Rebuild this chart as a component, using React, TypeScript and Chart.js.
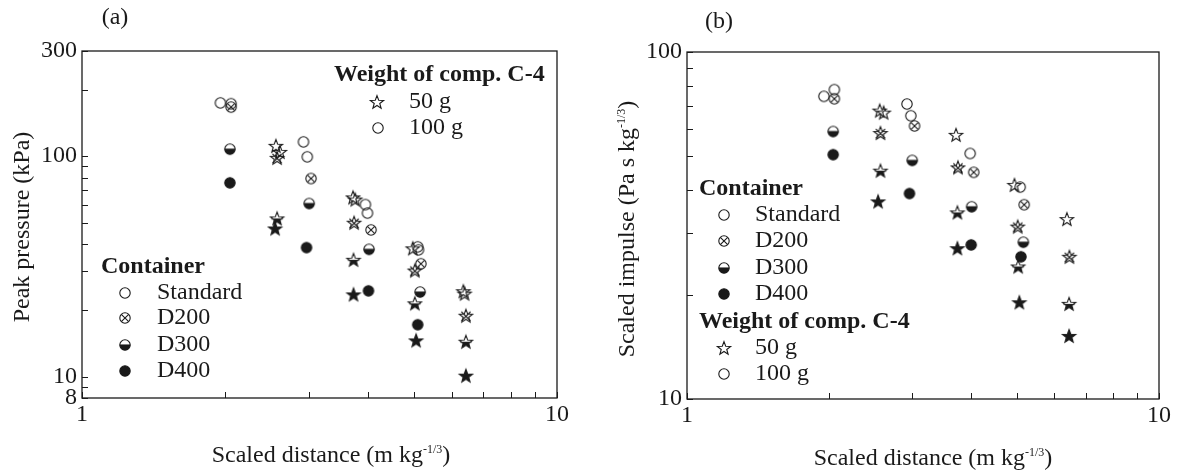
import { useEffect, useRef } from 'react';
import { Chart, registerables } from 'chart.js';

Chart.register(...registerables);

const SERIF = '"Liberation Serif", "Times New Roman", Times, serif';
const INK = '#1a1a1a';

type Pt = [number, number];

// ---- categories / tick labels ----
const CONTAINERS = ['Standard', 'D200', 'D300', 'D400'];
const WEIGHTS = ['50 g', '100 g'];
const X_TICKS = [1, 2, 3, 4, 5, 6, 7, 8, 9, 10];
const X_LABELS = [1, 10];
const A_Y_TICKS = [8, 9, 10, 20, 30, 40, 50, 60, 70, 80, 90, 100, 200, 300];
const A_Y_LABELS = [8, 10, 100, 300];
const B_Y_TICKS = [10, 20, 30, 40, 50, 60, 70, 80, 90, 100];
const B_Y_LABELS = [10, 100];

// ---- panel (a): peak pressure (kPa) ----
const A_STD_100: Pt[] = [[1.956, 174.5], [2.06, 173], [2.926, 116.1], [2.98, 99.3], [3.95, 60.3], [3.99, 55.2], [5.09, 38.8], [5.11, 37.6]];
const A_D200_100: Pt[] = [[2.06, 167], [3.035, 79.2], [4.06, 46.3], [5.17, 32.5]];
const A_D300_100: Pt[] = [[2.048, 107.6], [3.008, 61.0], [4.02, 37.8], [5.15, 24.2]];
const A_D400_100: Pt[] = [[2.048, 75.7], [2.97, 38.5], [4.01, 24.5], [5.09, 17.2]];
const A_STD_50: Pt[] = [[2.56, 111.4], [2.61, 104.6], [3.72, 65.0], [3.76, 63.6], [4.97, 38.2], [6.35, 24.4], [6.39, 23.8]];
const A_D200_50: Pt[] = [[2.575, 98.3], [3.74, 49.9], [5.02, 30.3], [6.43, 18.9]];
const A_D300_50: Pt[] = [[2.575, 52.2], [3.73, 33.9], [5.02, 21.5], [6.43, 14.4]];
const A_D400_50: Pt[] = [[2.55, 47.0], [3.73, 23.6], [5.05, 14.6], [6.43, 10.1]];

// ---- panel (b): scaled impulse (Pa s kg^-1/3) ----
const B_STD_100: Pt[] = [[1.95, 74.5], [2.052, 77.9], [2.924, 70.8], [2.98, 65.5], [3.98, 51.0], [5.08, 40.8]];
const B_D200_100: Pt[] = [[2.052, 73.3], [3.034, 61.2], [4.05, 45.0], [5.18, 36.3]];
const B_D300_100: Pt[] = [[2.04, 59.0], [3.0, 48.7], [4.01, 35.8], [5.16, 28.3]];
const B_D400_100: Pt[] = [[2.04, 50.6], [2.96, 39.1], [4.0, 27.8], [5.1, 25.7]];
const B_STD_50: Pt[] = [[2.56, 67.8], [2.61, 66.9], [3.715, 57.7], [4.94, 41.4], [6.38, 33.0]];
const B_D200_50: Pt[] = [[2.57, 58.4], [3.75, 46.5], [5.02, 31.4], [6.46, 25.7]];
const B_D300_50: Pt[] = [[2.57, 45.5], [3.74, 34.5], [5.03, 24.1], [6.45, 18.8]];
const B_D400_50: Pt[] = [[2.54, 37.1], [3.74, 27.2], [5.06, 19.0], [6.45, 15.2]];

type Fill = 'open' | 'cross' | 'half' | 'full';
const FILLS: Fill[] = ['open', 'cross', 'half', 'full'];

function starPath(ctx: CanvasRenderingContext2D, cx: number, cy: number, R: number, r: number) {
  ctx.beginPath();
  for (let i = 0; i < 10; i++) {
    const ang = -Math.PI / 2 + (i * Math.PI) / 5;
    const rad = i % 2 === 0 ? R : r;
    const x = cx + rad * Math.cos(ang);
    const y = cy + rad * Math.sin(ang);
    if (i === 0) ctx.moveTo(x, y);
    else ctx.lineTo(x, y);
  }
  ctx.closePath();
}

function makeMarker(shape: 'circle' | 'star', fill: Fill): HTMLCanvasElement {
  const size = 18;
  const c = document.createElement('canvas');
  c.width = size;
  c.height = size;
  const ctx = c.getContext('2d')!;
  const cx = size / 2;
  const cy = shape === 'star' ? size / 2 + 0.6 : size / 2;
  ctx.strokeStyle = INK;
  ctx.fillStyle = INK;
  ctx.lineWidth = 1.1;
  const path = () => {
    if (shape === 'circle') {
      ctx.beginPath();
      ctx.arc(cx, cy, 5.2, 0, Math.PI * 2);
      ctx.closePath();
    } else {
      starPath(ctx, cx, cy, 7, 2.9);
    }
  };
  if (fill === 'full') {
    path();
    ctx.fill();
    ctx.stroke();
    return c;
  }
  if (fill === 'half') {
    ctx.save();
    path();
    ctx.clip();
    ctx.fillRect(0, cy, size, size);
    ctx.restore();
    ctx.beginPath();
    const hw = shape === 'circle' ? 5.2 : 5.5;
    ctx.moveTo(cx - hw, cy);
    ctx.lineTo(cx + hw, cy);
    ctx.stroke();
  }
  if (fill === 'cross') {
    const d = shape === 'circle' ? 3.7 : 4.6;
    if (shape === 'circle') {
      ctx.save();
      path();
      ctx.clip();
    }
    ctx.beginPath();
    ctx.moveTo(cx - d, cy - d);
    ctx.lineTo(cx + d, cy + d);
    ctx.moveTo(cx - d, cy + d);
    ctx.lineTo(cx + d, cy - d);
    ctx.stroke();
    if (shape === 'circle') ctx.restore();
  }
  path();
  ctx.stroke();
  return c;
}

interface Panel {
  tag: string;
  tagX: number;
  tagY: number;
  yTitle: string;
  ySup: boolean;
  yTitleX: number;
  yTitleY: number;
  xTitleX: number;
  xTitleY: number;
  yMin: number;
  yMax: number;
  yTicks: number[];
  yLabels: number[];
  s100: Pt[][];
  s50: Pt[][];
  left: number;
  width: number;
  area: { left: number; right: number; top: number; bottom: number };
  legend: 'a' | 'b';
}

const PANELS: Panel[] = [
  {
    tag: '(a)', tagX: 115, tagY: 18,
    yTitle: 'Peak pressure (kPa)', ySup: false, yTitleX: 21, yTitleY: 227,
    xTitleX: 331, xTitleY: 454,
    yMin: 8, yMax: 300, yTicks: A_Y_TICKS, yLabels: A_Y_LABELS,
    s100: [A_STD_100, A_D200_100, A_D300_100, A_D400_100],
    s50: [A_STD_50, A_D200_50, A_D300_50, A_D400_50],
    left: 0, width: 590,
    area: { left: 82, right: 557, top: 51, bottom: 398 },
    legend: 'a',
  },
  {
    tag: '(b)', tagX: 129, tagY: 22,
    yTitle: 'Scaled impulse (Pa s kg', ySup: true, yTitleX: 36, yTitleY: 229,
    xTitleX: 343, xTitleY: 457,
    yMin: 10, yMax: 100, yTicks: B_Y_TICKS, yLabels: B_Y_LABELS,
    s100: [B_STD_100, B_D200_100, B_D300_100, B_D400_100],
    s50: [B_STD_50, B_D200_50, B_D300_50, B_D400_50],
    left: 590, width: 593,
    area: { left: 97, right: 569, top: 52, bottom: 399 },
    legend: 'b',
  },
];

const H = 475;
const MAIN = `24px ${SERIF}`;
const BOLD = `bold 24px ${SERIF}`;
const SUP = `12px ${SERIF}`;

function drawTitle(ctx: CanvasRenderingContext2D, parts: [string, boolean][], cx: number, cy: number, rotate: boolean) {
  ctx.save();
  ctx.translate(cx, cy);
  if (rotate) ctx.rotate(-Math.PI / 2);
  let total = 0;
  for (const [t, sup] of parts) {
    ctx.font = sup ? SUP : MAIN;
    total += ctx.measureText(t).width;
  }
  let x = -total / 2;
  ctx.textBaseline = 'alphabetic';
  ctx.textAlign = 'left';
  ctx.fillStyle = INK;
  for (const [t, sup] of parts) {
    ctx.font = sup ? SUP : MAIN;
    ctx.fillText(t, x, sup ? -1 : 8);
    x += ctx.measureText(t).width;
  }
  ctx.restore();
}

function App() {
  const refA = useRef<HTMLCanvasElement>(null);
  const refB = useRef<HTMLCanvasElement>(null);

  useEffect(() => {
    const circ = FILLS.map((f) => makeMarker('circle', f));
    const star = FILLS.map((f) => makeMarker('star', f));
    const charts: Chart[] = [];

    PANELS.forEach((p, idx) => {
      const canvas = idx === 0 ? refA.current : refB.current;
      if (!canvas) return;

      const datasets: any[] = [];
      p.s100.forEach((s, i) => {
        datasets.push({
          label: `${CONTAINERS[i]} ${WEIGHTS[1]}`,
          data: s.map(([x, y]) => ({ x, y })),
          pointStyle: circ[i],
          pointRadius: 5,
          showLine: false,
        });
      });
      p.s50.forEach((s, i) => {
        datasets.push({
          label: `${CONTAINERS[i]} ${WEIGHTS[0]}`,
          data: s.map(([x, y]) => ({ x, y })),
          pointStyle: star[i],
          pointRadius: 6,
          showLine: false,
        });
      });

      const decor = {
        id: 'decor',
        afterDraw(chart: any) {
          const ctx: CanvasRenderingContext2D = chart.ctx;
          const a = chart.chartArea;
          const xs = chart.scales.x;
          const ys = chart.scales.y;
          ctx.save();
          ctx.strokeStyle = INK;
          ctx.lineWidth = 1.3;
          ctx.strokeRect(a.left, a.top, a.right - a.left, a.bottom - a.top);
          ctx.lineWidth = 1;
          ctx.beginPath();
          for (const v of X_TICKS) {
            const px = Math.round(xs.getPixelForValue(v)) + 0.5;
            ctx.moveTo(px, a.bottom);
            ctx.lineTo(px, a.bottom - 6);
          }
          for (const v of p.yTicks) {
            const py = Math.round(ys.getPixelForValue(v)) + 0.5;
            ctx.moveTo(a.left, py);
            ctx.lineTo(a.left + 6, py);
          }
          ctx.stroke();

          // panel tag
          ctx.fillStyle = INK;
          ctx.font = MAIN;
          ctx.textAlign = 'center';
          ctx.textBaseline = 'middle';
          ctx.fillText(p.tag, p.tagX, p.tagY);

          // axis titles
          drawTitle(ctx, [['Scaled distance (m kg', false], ['-1/3', true], [')', false]], p.xTitleX, p.xTitleY, false);
          if (p.ySup) {
            drawTitle(ctx, [[p.yTitle, false], ['-1/3', true], [')', false]], p.yTitleX, p.yTitleY, true);
          } else {
            drawTitle(ctx, [[p.yTitle, false]], p.yTitleX, p.yTitleY, true);
          }

          // legends
          const img = (c: HTMLCanvasElement, x: number, y: number) => ctx.drawImage(c, x - c.width / 2, y - c.height / 2);
          const text = (t: string, x: number, y: number, bold: boolean) => {
            ctx.font = bold ? BOLD : MAIN;
            ctx.textAlign = 'left';
            ctx.textBaseline = 'middle';
            ctx.fillText(t, x, y);
          };
          if (p.legend === 'a') {
            text('Weight of comp. C-4', 334, 75, true);
            img(star[0], 377, 102);
            text(WEIGHTS[0], 409, 102, false);
            img(circ[0], 378, 128);
            text(WEIGHTS[1], 409, 128, false);
            text('Container', 101, 267, true);
            const rows = [293, 318, 345, 371];
            CONTAINERS.forEach((c, i) => {
              img(circ[i], 125, rows[i]);
              text(c, 157, rows[i], false);
            });
          } else {
            text('Container', 109, 189, true);
            const rows = [215, 241, 268, 294];
            CONTAINERS.forEach((c, i) => {
              img(circ[i], 134, rows[i]);
              text(c, 165, rows[i], false);
            });
            text('Weight of comp. C-4', 109, 322, true);
            img(star[0], 134, 348);
            text(WEIGHTS[0], 165, 348, false);
            img(circ[0], 134, 374);
            text(WEIGHTS[1], 165, 374, false);
          }
          ctx.restore();
        },
      };

      const chart = new Chart(canvas, {
        type: 'scatter',
        data: { datasets },
        options: {
          animation: false,
          responsive: false,
          devicePixelRatio: 1,
          events: [],
          layout: {
            padding: { left: 0, top: p.area.top, right: p.width - p.area.right, bottom: 0 },
          },
          plugins: { legend: { display: false }, tooltip: { enabled: false } },
          scales: {
            x: {
              type: 'logarithmic',
              min: 1,
              max: 10,
              grid: { display: false, drawTicks: false, tickLength: 0 },
              border: { display: false },
              afterBuildTicks: (s: any) => {
                s.ticks = X_TICKS.map((v) => ({ value: v }));
              },
              afterFit: (s: any) => {
                s.height = H - p.area.bottom;
              },
              ticks: {
                autoSkip: false,
                maxRotation: 0,
                padding: 2,
                color: INK,
                font: { family: SERIF, size: 24 },
                callback: (v: any) => (X_LABELS.includes(Number(v)) ? String(v) : ''),
              },
            },
            y: {
              type: 'logarithmic',
              min: p.yMin,
              max: p.yMax,
              grid: { display: false, drawTicks: false, tickLength: 0 },
              border: { display: false },
              afterBuildTicks: (s: any) => {
                s.ticks = p.yTicks.map((v) => ({ value: v }));
              },
              afterFit: (s: any) => {
                s.width = p.area.left;
              },
              ticks: {
                autoSkip: false,
                padding: 5,
                color: INK,
                font: { family: SERIF, size: 24 },
                callback: (v: any) => (p.yLabels.includes(Number(v)) ? String(v) : ''),
              },
            },
          },
        },
        plugins: [decor],
      });
      charts.push(chart);
    });

    return () => charts.forEach((c) => c.destroy());
  }, []);

  return (
    <div style={{ position: 'absolute', left: 0, top: 0, width: 1183, height: 475, background: '#fff' }}>
      <canvas ref={refA} width={590} height={475} style={{ position: 'absolute', left: 0, top: 0, width: 590, height: 475 }} />
      <canvas ref={refB} width={593} height={475} style={{ position: 'absolute', left: 590, top: 0, width: 593, height: 475 }} />
    </div>
  );
}

export default App;
